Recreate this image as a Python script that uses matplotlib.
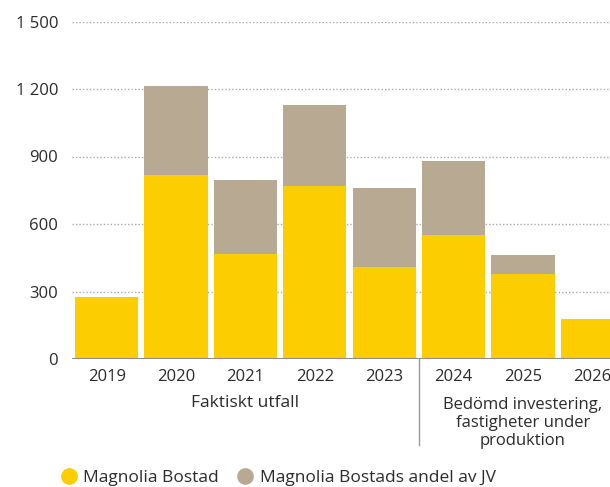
import matplotlib
matplotlib.use("Agg")
import matplotlib.pyplot as plt
from matplotlib.lines import Line2D
from matplotlib.transforms import blended_transform_factory

years = ["2019", "2020", "2021", "2022", "2023", "2024", "2025", "2026"]
magnolia = [275, 818, 467, 769, 409, 551, 378, 178]
jv_share = [0, 395, 329, 360, 351, 329, 84, 0]
yticks = [0, 300, 600, 900, 1200, 1500]
ytick_labels = ["0", "300", "600", "900", "1 200", "1 500"]
group_labels = ["Faktiskt utfall", "Bedömd investering,\nfastigheter under\nproduktion"]
series_names = ["Magnolia Bostad", "Magnolia Bostads andel av JV"]

YELLOW = "#FCCD00"
TAUPE = "#B8A992"
TEXT = "#2b2b2b"

plt.rcParams['font.family'] = ['Open Sans', 'DejaVu Sans']

fig = plt.figure(figsize=(6.10, 4.87), dpi=100)
W, H = 610, 487
left, right = 72 / W, 627 / W
bottom, top = (H - 359) / H, (H - 21.5) / H
ax = fig.add_axes([left, bottom, right - left, top - bottom])

x = list(range(len(years)))
ax.bar(x, magnolia, width=0.91, color=YELLOW, zorder=3)
ax.bar(x, jv_share, width=0.91, bottom=magnolia, color=TAUPE, zorder=3)

ax.set_xlim(-0.5, 7.5)
ax.set_ylim(0, 1500)
ax.set_yticks(yticks)
ax.set_yticklabels(ytick_labels)
ax.set_xticks(x)
ax.set_xticklabels(years)

for s in ax.spines.values():
    s.set_visible(False)
ax.tick_params(axis='both', length=0, labelsize=12, colors=TEXT)
ax.tick_params(axis='y', pad=10)
ax.tick_params(axis='x', pad=7)

for yv in yticks[1:]:
    ax.axhline(yv, color="#aaaaaa", lw=1.0, ls=(0, (1, 1.5)), zorder=1)
ax.axhline(0, color="#8c8c8c", lw=1.5, zorder=4)

trans = blended_transform_factory(ax.transData, ax.transAxes)
ax.text(2, -0.130, group_labels[0], transform=trans, ha='center', va='center',
        fontsize=12.5, color=TEXT)
ax.text(6, -0.189, group_labels[1], transform=trans, ha='center', va='center',
        fontsize=12, color=TEXT, linespacing=1.15)
ax.plot([4.5, 4.5], [0, -0.255], transform=trans, color="#999999", lw=1.0,
        clip_on=False, zorder=5)

handles = [Line2D([], [], marker='o', ls='none', markersize=11, color=YELLOW),
           Line2D([], [], marker='o', ls='none', markersize=11, color=TAUPE)]
leg = fig.legend(handles, series_names, loc='center left',
                 bbox_to_anchor=(60 / W, (H - 478) / H), ncol=2, frameon=False,
                 fontsize=12.5, handletextpad=0.35, columnspacing=1.0,
                 handlelength=1.0, borderaxespad=0, borderpad=0)
for t in leg.get_texts():
    t.set_color(TEXT)

fig.savefig("out.png", dpi=100)
